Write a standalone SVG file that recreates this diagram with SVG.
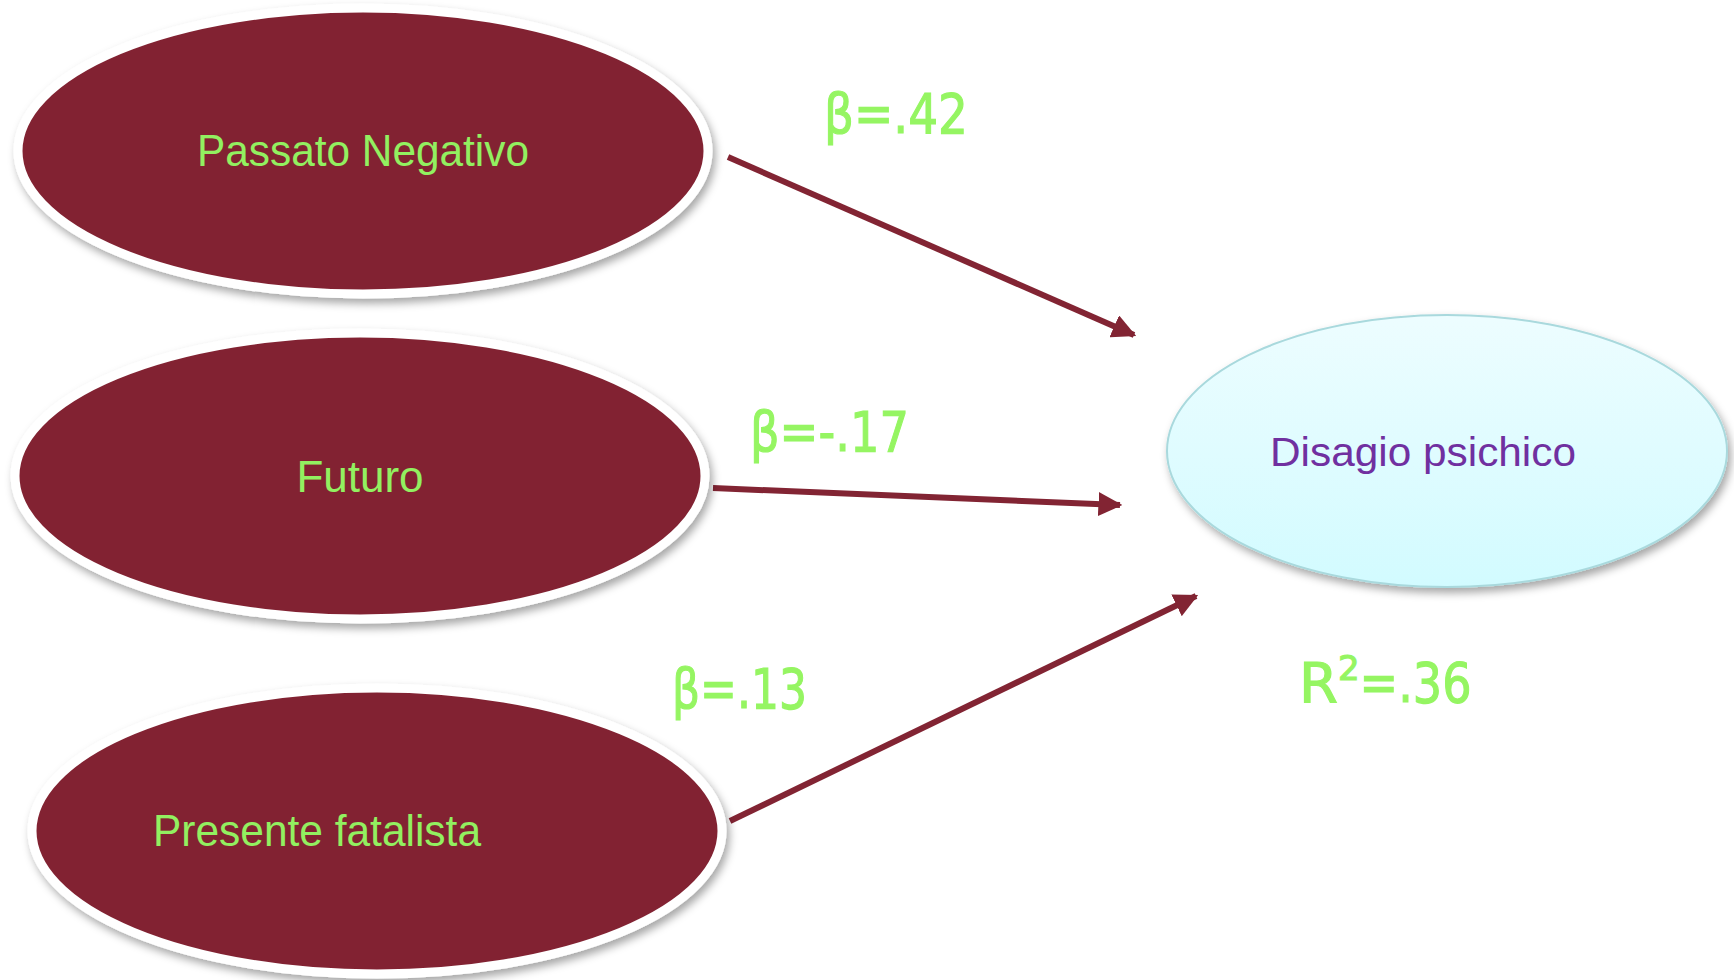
<svg xmlns="http://www.w3.org/2000/svg" width="1734" height="980" viewBox="0 0 1734 980">
<defs>
<style>
.dark{fill:#822433;stroke:#ffffff;stroke-width:9}
.lbl{font-family:"Liberation Sans",Arial,sans-serif;font-size:44px;fill:#92F060;text-anchor:middle}
.coef{font-family:"DejaVu Sans","Liberation Sans",sans-serif;font-size:56px;fill:#95F562;stroke:#95F562;stroke-width:1.2}
.conn{stroke:#822433;stroke-width:6;fill:none}
</style>
<filter id="sh" x="-10%" y="-10%" width="125%" height="130%">
<feDropShadow dx="3" dy="5" stdDeviation="4" flood-color="#000" flood-opacity="0.35"/>
</filter>
<linearGradient id="cy" x1="0" y1="0" x2="0" y2="1">
<stop offset="0" stop-color="#EDFDFF"/>
<stop offset="1" stop-color="#D2FBFF"/>
</linearGradient>
<marker id="ah" viewBox="0 0 10 10" refX="9" refY="5" markerWidth="4" markerHeight="4" markerUnits="strokeWidth" orient="auto">
<path d="M0,0 L10,5 L0,10 z" fill="#822433"/>
</marker>
</defs>
<rect width="1734" height="980" fill="#ffffff"/>
<g id="connectors">
<line class="conn" x1="728" y1="157" x2="1134" y2="335" marker-end="url(#ah)"/>
<line class="conn" x1="713" y1="488" x2="1120" y2="505" marker-end="url(#ah)"/>
<line class="conn" x1="730" y1="821" x2="1196" y2="596" marker-end="url(#ah)"/>
</g>
<g id="node-passato">
<ellipse class="dark" cx="363" cy="151" rx="345" ry="143" filter="url(#sh)"/>
<text class="lbl" x="363" y="166" textLength="332" lengthAdjust="spacingAndGlyphs">Passato Negativo</text>
</g>
<g id="node-futuro">
<ellipse class="dark" cx="360" cy="476" rx="345" ry="143" filter="url(#sh)"/>
<text class="lbl" x="360" y="492">Futuro</text>
</g>
<g id="node-presente">
<ellipse class="dark" cx="377" cy="831" rx="345" ry="143" filter="url(#sh)"/>
<text class="lbl" x="317" y="846" textLength="328" lengthAdjust="spacingAndGlyphs">Presente fatalista</text>
</g>
<g id="node-disagio">
<ellipse cx="1447" cy="451" rx="280" ry="136" fill="url(#cy)" stroke="#A9D9DD" stroke-width="2" filter="url(#sh)"/>
<text x="1423" y="466" font-family="Liberation Sans,Arial,sans-serif" font-size="40" fill="#7030A0" text-anchor="middle" textLength="306" lengthAdjust="spacingAndGlyphs">Disagio psichico</text>
</g>
<g id="labels">
<text class="coef" x="824" y="133" textLength="144" lengthAdjust="spacingAndGlyphs">β=.42</text>
<text class="coef" x="750" y="451" textLength="159" lengthAdjust="spacingAndGlyphs">β=-.17</text>
<text class="coef" x="672" y="708" textLength="135" lengthAdjust="spacingAndGlyphs">β=.13</text>
<text class="coef" x="1299" y="702">R<tspan font-size="34" dy="-22">2</tspan><tspan dy="22" textLength="112" lengthAdjust="spacingAndGlyphs">=.36</tspan></text>
</g>
</svg>
